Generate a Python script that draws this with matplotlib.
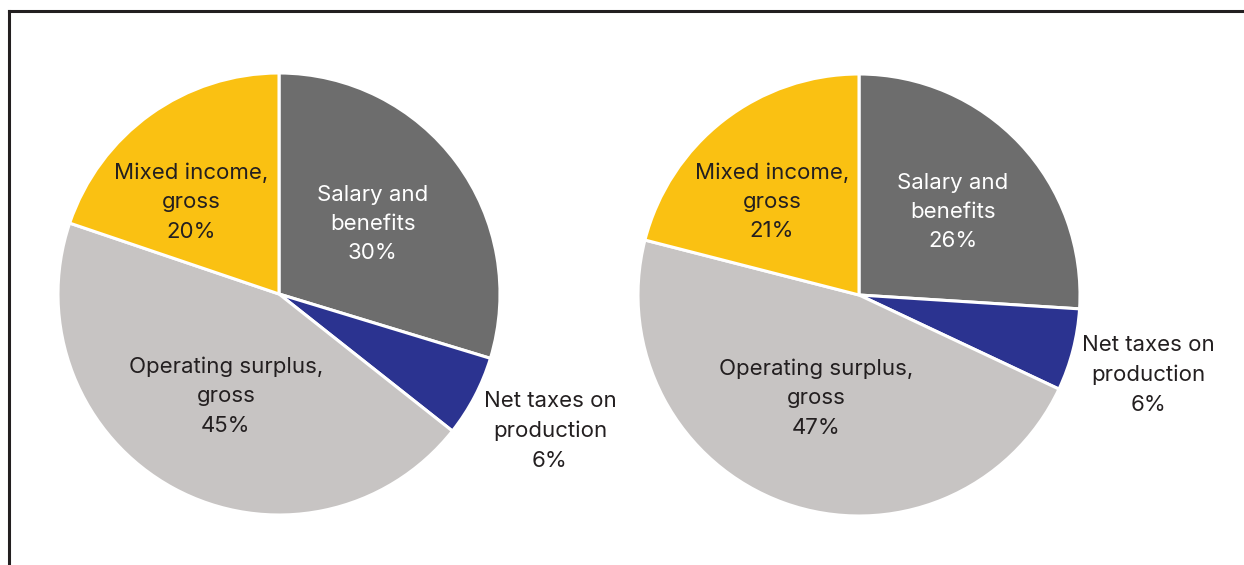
import matplotlib.pyplot as plt
from matplotlib.lines import Line2D

labels = ["Salary and\nbenefits", "Net taxes on\nproduction",
          "Operating surplus,\ngross", "Mixed income,\ngross"]
left_share = [30, 6, 45, 20]
right_share = [26, 6, 47, 21]

colors = ["#6d6d6d", "#2b3390", "#c7c4c3", "#fac112"]
text_color = "#231f20"
label_colors = ["white", text_color, text_color, text_color]

plt.rcParams['font.family'] = ['Inter', 'DejaVu Sans']

W, H = 1244, 565
R = 221  # pie radius in pixels

fig = plt.figure(figsize=(W / 100, H / 100), dpi=100)


def make_axes(x0, x1, cx, cy):
    ax = fig.add_axes([x0 / W, 0, (x1 - x0) / W, 1])
    return ax, ((x0 - cx) / R, (x1 - cx) / R), ((cy - H) / R, cy / R)


def draw_pie(ax, xlim, ylim, share, label_pos):
    ax.pie(share, colors=colors, startangle=90, counterclock=False,
           wedgeprops=dict(edgecolor="white", linewidth=2.2))
    ax.set_aspect('auto')
    ax.set_xlim(*xlim)
    ax.set_ylim(*ylim)
    ax.axis('off')
    for lab, val, c, (x, y) in zip(labels, share, label_colors, label_pos):
        ax.text(x, y, f"{lab}\n{val}%", ha='center', va='center',
                fontsize=16, color=c, linespacing=1.58)


ax1, xl1, yl1 = make_axes(0, 622, 279, 294)
draw_pie(ax1, xl1, yl1, left_share,
         [(0.425, 0.317), (1.226, -0.62), (-0.24, -0.462), (-0.398, 0.416)])

ax2, xl2, yl2 = make_axes(622, 1244, 859, 295)
draw_pie(ax2, xl2, yl2, right_share,
         [(0.425, 0.376), (1.308, -0.362), (-0.195, -0.466), (-0.394, 0.421)])

# outer frame: top and left rules
fig.add_artist(Line2D([9 / W, 1], [1 - 11 / H, 1 - 11 / H], color=text_color,
                      lw=2.2, solid_capstyle='projecting'))
fig.add_artist(Line2D([9 / W, 9 / W], [0, 1 - 11 / H], color=text_color,
                      lw=2.2, solid_capstyle='projecting'))

fig.savefig("out.png", dpi=100)
